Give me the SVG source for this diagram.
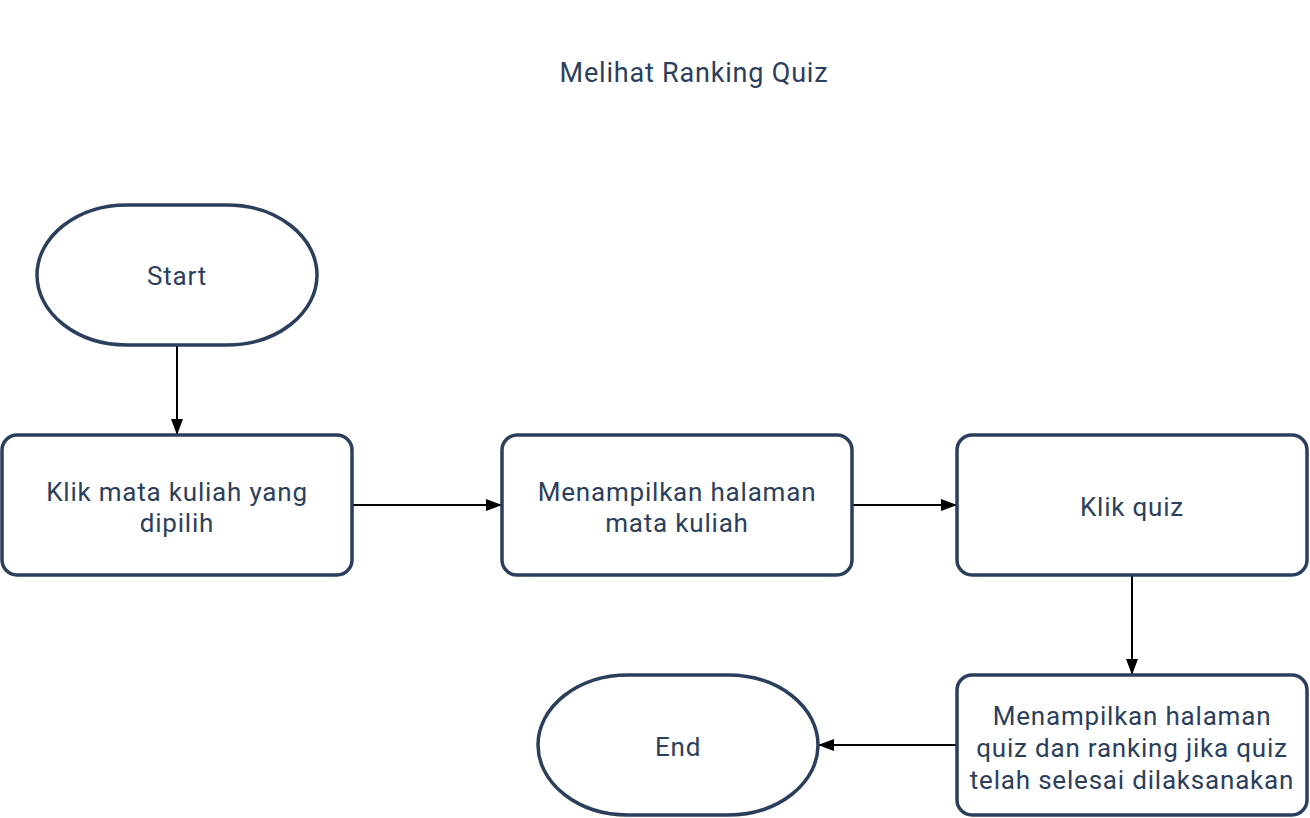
<svg xmlns="http://www.w3.org/2000/svg" width="1310" height="818" viewBox="0 0 1310 818">
<defs>
<marker id="arr" viewBox="0 0 16 12" refX="16" refY="6" markerWidth="16" markerHeight="12" markerUnits="userSpaceOnUse" orient="auto">
<path d="M0,0 L16,6 L0,12 Z" fill="#000"/>
</marker>
<style>
.shape{fill:#fff;stroke:#2b3f5c;stroke-width:3.5}
.t{font-family:Roboto,"Noto Sans",sans-serif;font-size:26px;letter-spacing:0.8px;fill:#2b3f5c;text-anchor:middle}
.c{stroke:#000;stroke-width:2;fill:none;marker-end:url(#arr)}
</style>
</defs>
<rect width="1310" height="818" fill="#fff"/>
<text class="t" x="694" y="82" style="font-size:27px">Melihat Ranking Quiz</text>
<g id="connectors">
<path class="c" d="M177,345 L177,435"/>
<path class="c" d="M352,505 L502,505"/>
<path class="c" d="M852,505 L957,505"/>
<path class="c" d="M1132,575 L1132,675"/>
<path class="c" d="M957,745 L818,745"/>
</g>
<g id="start">
<rect class="shape" x="37" y="205" width="280" height="140" rx="90" ry="70"/>
<text class="t" x="177" y="285">Start</text>
</g>
<g id="klik-mata-kuliah">
<rect class="shape" x="2" y="435" width="350" height="140" rx="15"/>
<text class="t" x="177" y="501">Klik mata kuliah yang</text>
<text class="t" x="177" y="532">dipilih</text>
</g>
<g id="halaman-mata-kuliah">
<rect class="shape" x="502" y="435" width="350" height="140" rx="15"/>
<text class="t" x="677" y="501">Menampilkan halaman</text>
<text class="t" x="677" y="532">mata kuliah</text>
</g>
<g id="klik-quiz">
<rect class="shape" x="957" y="435" width="350" height="140" rx="15"/>
<text class="t" x="1132" y="516">Klik quiz</text>
</g>
<g id="halaman-quiz">
<rect class="shape" x="957" y="675" width="350" height="140" rx="15"/>
<text class="t" x="1132" y="725">Menampilkan halaman</text>
<text class="t" x="1132" y="757">quiz dan ranking jika quiz</text>
<text class="t" x="1132" y="789">telah selesai dilaksanakan</text>
</g>
<g id="end">
<rect class="shape" x="538" y="675" width="280" height="140" rx="90" ry="70"/>
<text class="t" x="678" y="756">End</text>
</g>
</svg>
